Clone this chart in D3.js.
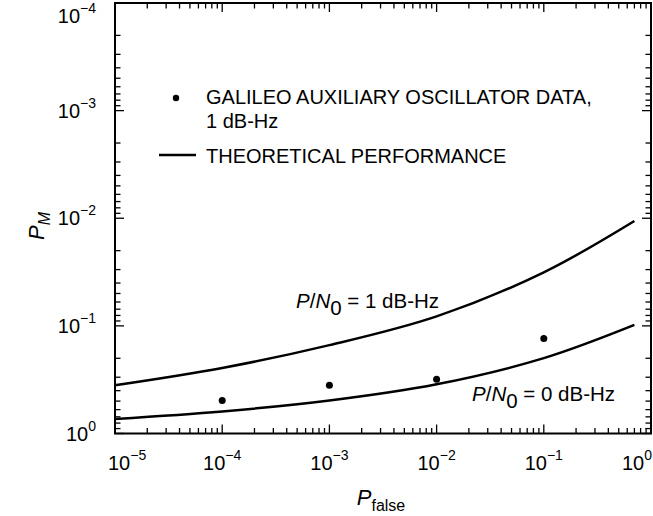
<!DOCTYPE html>
<html>
<head>
  <meta charset="UTF-8">
  <style>
    body {
      margin: 0;
      background: #fff;
      font-family: "Liberation Sans", Arial, sans-serif;
    }
    svg { display: block; }
  </style>
</head>
<body>
<svg></svg>
<script src="https://d3js.org/d3.v7.min.js"></script>
<script>
// values
const xDecades = [-5, -4, -3, -2, -1, 0];
const yDecades = [-4, -3, -2, -1, 0];
const xExpLabels = ["\u22125", "\u22124", "\u22123", "\u22122", "\u22121", "0"];
const yExpLabels = ["\u22124", "\u22123", "\u22122", "\u22121", "0"];

// theoretical curves
const curveX = [1e-5, 1e-4, 1e-3, 1e-2, 1e-1, 0.7];
const curve1dB = [0.356, 0.246, 0.151, 0.0816, 0.0318, 0.0106];
const curve0dB = [0.732, 0.624, 0.494, 0.349, 0.1995, 0.098];

// Galileo auxiliary oscillator data
const dataX = [1e-4, 1e-3, 1e-2, 1e-1];
const dataY = [0.494, 0.356, 0.313, 0.131];

let width = 653, height = 516;
let pLeft = 115, pRight = 651, pTop = 3, pBottom = 433.5;

let svg = d3.select("svg").attr("width", width).attr("height", height);

let x = d3.scaleLog().domain([1e-5, 1]).range([pLeft, pRight]);
let y = d3.scaleLog().domain([1e-4, 1]).range([pTop, pBottom]);

// ticks (inward on all four sides)
let majorX = xDecades.map(d => Math.pow(10, d));
let minorX = [];
xDecades.slice(0, -1).forEach(d => { for (let k = 2; k <= 9; k++) minorX.push(k * Math.pow(10, d)); });
let majorY = yDecades.map(d => Math.pow(10, d));
let minorY = [];
yDecades.slice(0, -1).forEach(d => { for (let k = 2; k <= 9; k++) minorY.push(k * Math.pow(10, d)); });

let ticks = svg.append("g").attr("stroke", "#000").attr("stroke-width", 1.3);
function xTick(v, len) {
  ticks.append("line").attr("x1", x(v)).attr("x2", x(v)).attr("y1", pBottom).attr("y2", pBottom - len);
  ticks.append("line").attr("x1", x(v)).attr("x2", x(v)).attr("y1", pTop).attr("y2", pTop + len);
}
function yTick(v, len) {
  ticks.append("line").attr("y1", y(v)).attr("y2", y(v)).attr("x1", pLeft).attr("x2", pLeft + len);
  ticks.append("line").attr("y1", y(v)).attr("y2", y(v)).attr("x1", pRight).attr("x2", pRight - len);
}
majorX.forEach(v => xTick(v, 9));
minorX.forEach(v => xTick(v, 5.5));
majorY.forEach(v => yTick(v, 9));
minorY.forEach(v => yTick(v, 5.5));

svg.append("rect")
  .attr("x", pLeft).attr("y", pTop)
  .attr("width", pRight - pLeft).attr("height", pBottom - pTop)
  .attr("fill", "none").attr("stroke", "#000").attr("stroke-width", 2);

// tick labels
let lab = svg.append("g").attr("fill", "#000").attr("font-size", 20);
majorX.forEach((v, i) => {
  let t = lab.append("text").attr("y", 470);
  t.append("tspan").text("10");
  t.append("tspan").attr("dy", -10).attr("font-size", 14).text(xExpLabels[i]);
  let w = t.node().getComputedTextLength();
  let x0 = x(v) - w / 2;
  x0 = Math.max(108, Math.min(x0, 652 - w));
  t.attr("x", x0);
});
majorY.forEach((v, i) => {
  let t = lab.append("text").attr("x", 96).attr("y", Math.max(y(v) + 7, 23)).attr("text-anchor", "end");
  t.append("tspan").text("10");
  t.append("tspan").attr("dy", -10).attr("font-size", 14).text(yExpLabels[i]);
});

// axis titles
let yt = svg.append("text")
  .attr("transform", "translate(44,226) rotate(-90)")
  .attr("text-anchor", "middle").attr("font-size", 22);
yt.append("tspan").attr("font-style", "italic").text("P");
yt.append("tspan").attr("font-style", "italic").attr("font-size", 16).attr("dy", 6).text("M");

let xt = svg.append("text")
  .attr("x", 381).attr("y", 505)
  .attr("text-anchor", "middle").attr("font-size", 22);
xt.append("tspan").attr("font-style", "italic").text("P");
xt.append("tspan").attr("font-size", 16).attr("dy", 6).text("false");

// curves
let line = d3.line()
  .x(d => x(d[0]))
  .y(d => y(d[1]))
  .curve(d3.curveCatmullRom.alpha(0.5));

[curve1dB, curve0dB].forEach(c => {
  svg.append("path")
    .datum(curveX.map((v, i) => [v, c[i]]))
    .attr("d", line)
    .attr("fill", "none")
    .attr("stroke", "#000")
    .attr("stroke-width", 2.5);
});

svg.append("g").selectAll("circle")
  .data(dataX.map((v, i) => [v, dataY[i]]))
  .enter().append("circle")
  .attr("cx", d => x(d[0]))
  .attr("cy", d => y(d[1]))
  .attr("r", 3.5)
  .attr("fill", "#000");

// curve annotations
function pn0(xp, yp, rest) {
  let t = svg.append("text").attr("x", xp).attr("y", yp).attr("font-size", 20.5);
  t.append("tspan").attr("font-style", "italic").text("P");
  t.append("tspan").text("/");
  t.append("tspan").attr("font-style", "italic").text("N");
  t.append("tspan").attr("dy", 7).text("0");
  t.append("tspan").attr("dy", -7).text(rest);
}
pn0(296, 308, " = 1 dB-Hz");
pn0(472, 401, " = 0 dB-Hz");

// legend
svg.append("circle").attr("cx", 176).attr("cy", 98).attr("r", 3.2).attr("fill", "#000");
svg.append("text").attr("x", 206).attr("y", 104).attr("font-size", 20).text("GALILEO AUXILIARY OSCILLATOR DATA,");
svg.append("text").attr("x", 206).attr("y", 128).attr("font-size", 20).text("1 dB-Hz");
svg.append("line").attr("x1", 159).attr("x2", 196).attr("y1", 155).attr("y2", 155)
  .attr("stroke", "#000").attr("stroke-width", 2.5);
svg.append("text").attr("x", 206).attr("y", 163).attr("font-size", 20).text("THEORETICAL PERFORMANCE");
</script>
</body>
</html>
